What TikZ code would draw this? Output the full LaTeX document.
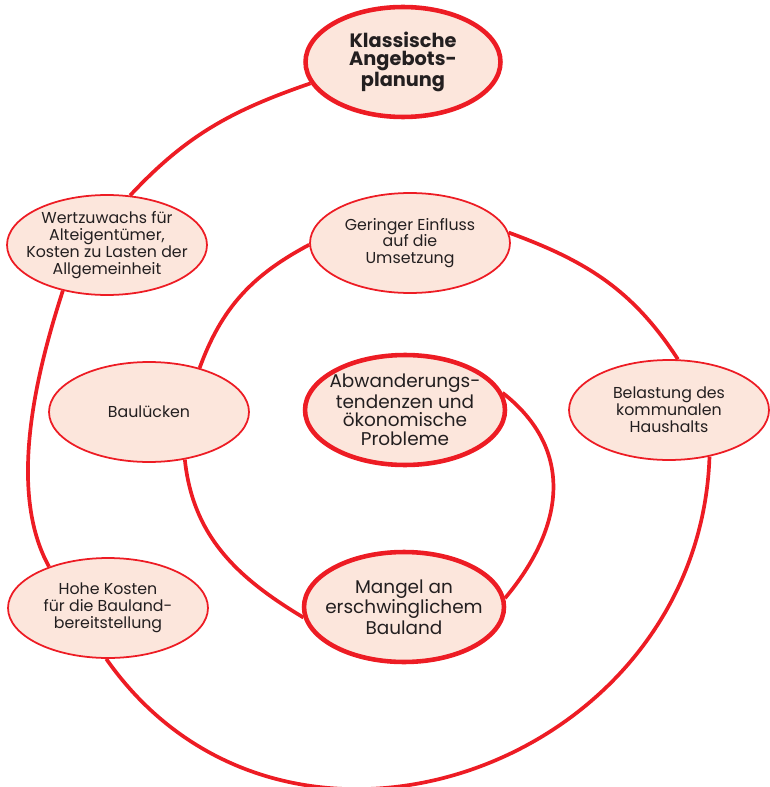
\documentclass[tikz,border=0pt]{standalone}
\usepackage{fontspec}
\setmainfont{Poppins}
\usepackage{xcolor}
\usetikzlibrary{shapes.geometric}

\definecolor{spiralred}{HTML}{ED1C24}
\definecolor{peach}{HTML}{FCE6DC}
\definecolor{ink}{HTML}{231F20}

\begin{document}
\begin{tikzpicture}[x=0.02cm, y=0.02cm,
        topic/.style={ellipse,inner xsep=-12pt,inner ysep=-8pt,minimum width=4cm,minimum height=2cm,
      draw=spiralred,line width=1pt,fill=peach,text=ink,align=center,
      font=\fontsize{9}{9.6}\selectfont},
        keytopic/.style={topic,minimum height=2.2cm,line width=2.6pt,
      font=\fontsize{10.5}{10.6}\selectfont},
        link/.style={line width=2.1pt,spiralred}]

	\useasboundingbox (0,0) rectangle (769,-787);

	\node [keytopic,minimum width=3.9cm,font=\fontsize{11}{10.2}\selectfont\bfseries] (v1) at (403,-62) {Klassische\\Angebots-\\planung};
        \node [topic] (v2) at (107,-245)       {Wertzuwachs für\\Alteigentümer,\\Kosten zu Lasten der\\Allgemeinheit};
        \node [topic] (v3) at (108,-608)       {Hohe Kosten\\für die Bauland-\\bereitstellung};
        \node [topic] (v4) at (669,-410)       {Belastung des\\kommunalen\\Haushalts};
        \node [topic] (v5) at (410,-243)       {Geringer Einfluss\\auf die\\Umsetzung};
        \node [topic] (v6) at (149,-412)       {Baulücken};
        \node [keytopic] (v7) at (404,-607)    {Mangel an\\erschwinglichem\\Bauland};
        \node [keytopic] (v8) at (405,-410)    {Abwanderungs-\\tendenzen und\\ökonomische\\Probleme};

        \path [link] (v1.193) edge[out=199,in=47] (v2.65);
        \path [link] (v2.226) edge[out=252,in=119,looseness=0.8] (v3.145);
        \path [link] (v3.268) edge[out=-55,in=-92,looseness=1.25] (v4.311);
        \path [link] (v4.80) edge[out=123,in=-20] (v5.6);
        \path [link] (v5.181) edge[out=208,in=70] (v6.41);
        \path [link] (v6.307) edge[out=-84,in=149] (v7.186);
        \path [link] (v7.5) edge[out=50,in=-38,looseness=1.15] (v8.10);
\end{tikzpicture}
\end{document}
